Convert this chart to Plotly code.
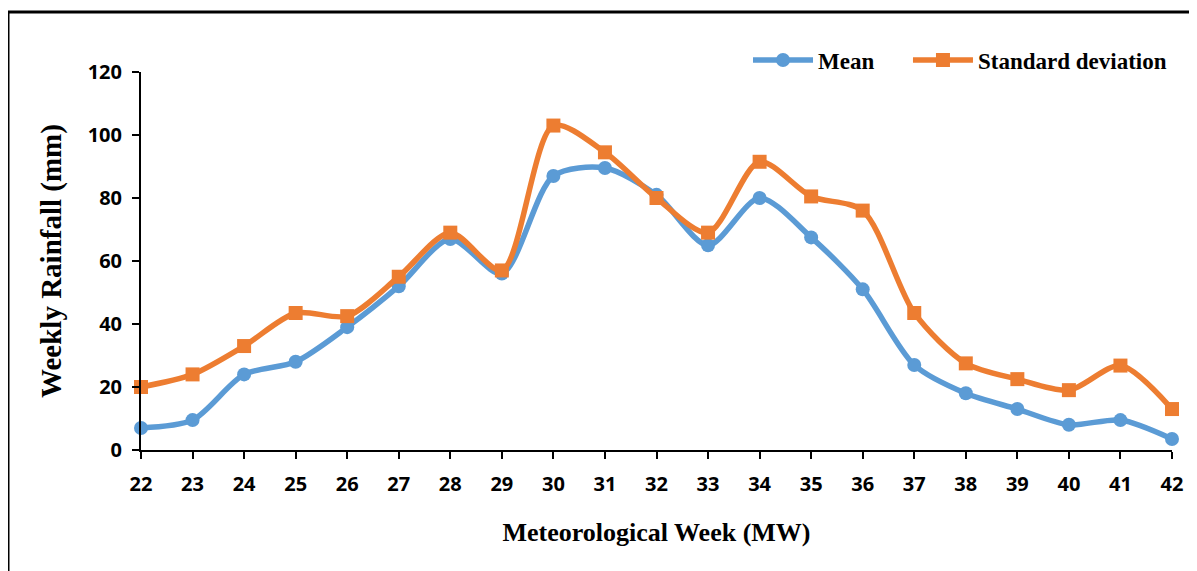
import plotly.graph_objects as go

weeks = list(range(22, 43))
mean_vals = [7, 9.5, 24, 28, 39, 52, 67, 56, 87, 89.5, 81, 65, 80, 67.5, 51, 27, 18, 13, 8, 9.5, 3.5]
sd_vals = [20, 24, 33, 43.5, 42.5, 55, 69, 57, 103, 94.5, 80, 69, 91.5, 80.5, 76, 43.5, 27.5, 22.5, 19, 26.8, 13]

W, H = 1197, 571
L, T = 133, 64
pw, ph = 1031, 378
R, B = W - L - pw, H - T - ph

fig = go.Figure()
fig.add_trace(go.Scatter(
    x=weeks, y=mean_vals, name="Mean\u00a0\u00a0\u00a0\u00a0\u00a0", mode="lines+markers",
    line=dict(color="#5B9BD5", width=5.5, shape="spline", smoothing=0.8),
    marker=dict(symbol="circle", size=14, color="#5B9BD5"),
    cliponaxis=False,
))
fig.add_trace(go.Scatter(
    x=weeks, y=sd_vals, name="Standard deviation", mode="lines+markers",
    line=dict(color="#ED7D31", width=5.5, shape="spline", smoothing=0.8),
    marker=dict(symbol="square", size=14, color="#ED7D31"),
    cliponaxis=False,
))

tickfont = dict(family="Open Sans", size=20, color="black", weight="bold")
xtitlefont = dict(family="Liberation Serif", size=26, color="black", weight="bold")
ytitlefont = dict(family="Liberation Serif", size=29, color="black", weight="bold")

fig.update_layout(
    width=W, height=H,
    margin=dict(l=L, r=R, t=T, b=B),
    paper_bgcolor="white", plot_bgcolor="white",
    showlegend=True,
    legend=dict(
        orientation="h", x=1.0, xanchor="right", y=1 + 12 / ph, yanchor="middle",
        font=dict(family="Liberation Serif", size=23, color="black", weight="bold"),
        itemwidth=60, bgcolor="rgba(0,0,0,0)",
    ),
    xaxis=dict(
        range=[22, 42], tickmode="array", tickvals=weeks, ticktext=[str(w) for w in weeks],
        showgrid=False, zeroline=False, showline=True, linecolor="black", linewidth=2,
        ticks="outside", ticklen=7, tickwidth=2, tickcolor="black",
        tickfont=tickfont, ticklabelstandoff=8,
        title=dict(text="Meteorological Week (MW)", font=xtitlefont, standoff=27),
    ),
    yaxis=dict(
        range=[0, 120], tickmode="array", tickvals=[0, 20, 40, 60, 80, 100, 120],
        showgrid=False, zeroline=False, showline=True, linecolor="black", linewidth=2,
        ticks="outside", ticklen=7, tickwidth=2, tickcolor="black",
        tickfont=tickfont, ticklabelstandoff=6,
        title=dict(text="Weekly Rainfall (mm)", font=ytitlefont, standoff=18),
    ),
)

# outer frame (top and left edges visible, others run off the picture)
fig.add_shape(
    type="rect", xref="paper", yref="paper",
    x0=(0 - L) / pw, x1=(W + 10 - L) / pw,
    y0=-(H + 10 - T - ph) / ph, y1=1 + (T - 4) / ph,
    line=dict(color="black", width=3), fillcolor="rgba(0,0,0,0)", layer="below",
)

fig.write_html("out.html")
